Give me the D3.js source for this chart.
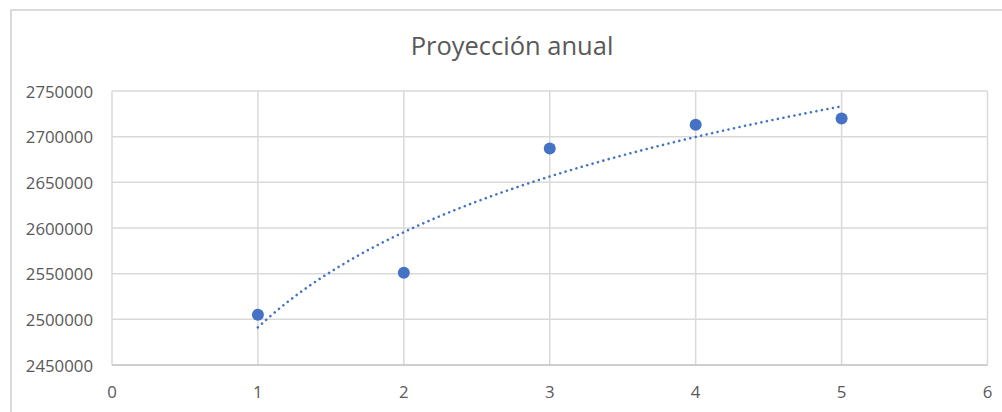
<!DOCTYPE html>
<html>
<head>
<meta charset="utf-8">
<script src="https://cdn.jsdelivr.net/npm/d3@7/dist/d3.min.js"></script>
<style>
  html, body { margin: 0; padding: 0; background: #ffffff; }
  svg { display: block; }
  text { font-family: "Open Sans", "Noto Sans", sans-serif; fill: #595959; }
</style>
</head>
<body>
<svg id="chart" width="1002" height="412"></svg>
<script>
// Annual projection: year index and projected value
const years = [1, 2, 3, 4, 5];
const values = [2505000, 2551000, 2687000, 2713000, 2720000];
const xTicks = [0, 1, 2, 3, 4, 5, 6];
const yTicks = [2450000, 2500000, 2550000, 2600000, 2650000, 2700000, 2750000];
const title = "Proyección anual";

const svg = d3.select("#chart");
const W = 1002, H = 412;
const plot = { left: 112, right: 987.5, top: 91, bottom: 365 };

// chart frame (extends past the right and bottom edges)
svg.append("rect")
  .attr("x", 11).attr("y", 10)
  .attr("width", W + 20).attr("height", H + 20)
  .attr("fill", "#ffffff")
  .attr("stroke", "#d9d9d9").attr("stroke-width", 2);

const x = d3.scaleLinear().domain([0, 6]).range([plot.left, plot.right]);
const y = d3.scaleLinear().domain([2450000, 2750000]).range([plot.bottom, plot.top]);

// horizontal gridlines
svg.append("g").selectAll("line").data(yTicks.slice(1)).join("line")
  .attr("x1", plot.left).attr("x2", plot.right)
  .attr("y1", d => y(d)).attr("y2", d => y(d))
  .attr("stroke", "#d9d9d9").attr("stroke-width", 1.5);

// vertical gridlines
svg.append("g").selectAll("line").data(xTicks).join("line")
  .attr("x1", d => x(d)).attr("x2", d => x(d))
  .attr("y1", plot.top).attr("y2", plot.bottom)
  .attr("stroke", "#d9d9d9").attr("stroke-width", 1.5);

// bottom axis line
svg.append("line")
  .attr("x1", plot.left).attr("x2", plot.right)
  .attr("y1", plot.bottom).attr("y2", plot.bottom)
  .attr("stroke", "#bfbfbf").attr("stroke-width", 1.5);

// y axis labels
svg.append("g").selectAll("text").data(yTicks).join("text")
  .attr("x", 93).attr("y", d => y(d))
  .attr("text-anchor", "end").attr("dominant-baseline", "central")
  .style("font-size", "16.8px")
  .text(d => d3.format("d")(d));

// x axis labels
svg.append("g").selectAll("text").data(xTicks).join("text")
  .attr("x", d => x(d)).attr("y", 391)
  .attr("text-anchor", "middle").attr("dominant-baseline", "central")
  .style("font-size", "16.8px")
  .text(d => d);

// logarithmic trendline: least-squares fit of value = a + b * ln(year)
const lx = years.map(Math.log);
const mx = d3.mean(lx), my = d3.mean(values);
const b = d3.sum(lx, (v, i) => (v - mx) * (values[i] - my)) / d3.sum(lx, v => (v - mx) ** 2);
const a = my - b * mx;
const trendX = d3.range(0, 101).map(i => 1 + i * 0.04);
svg.append("path")
  .datum(trendX)
  .attr("d", d3.line().x(d => x(d)).y(d => y(a + b * Math.log(d))).curve(d3.curveLinear))
  .attr("fill", "none")
  .attr("stroke", "#4472c4").attr("stroke-width", 2.6)
  .attr("stroke-linecap", "round")
  .attr("stroke-dasharray", "0.01 5.6");

// data points
svg.append("g").selectAll("circle").data(years).join("circle")
  .attr("cx", d => x(d)).attr("cy", (d, i) => y(values[i]))
  .attr("r", 6)
  .attr("fill", "#4472c4");

// title
svg.append("text")
  .attr("x", 512).attr("y", 55)
  .attr("text-anchor", "middle")
  .style("font-size", "25.5px")
  .text(title);
</script>
</body>
</html>
